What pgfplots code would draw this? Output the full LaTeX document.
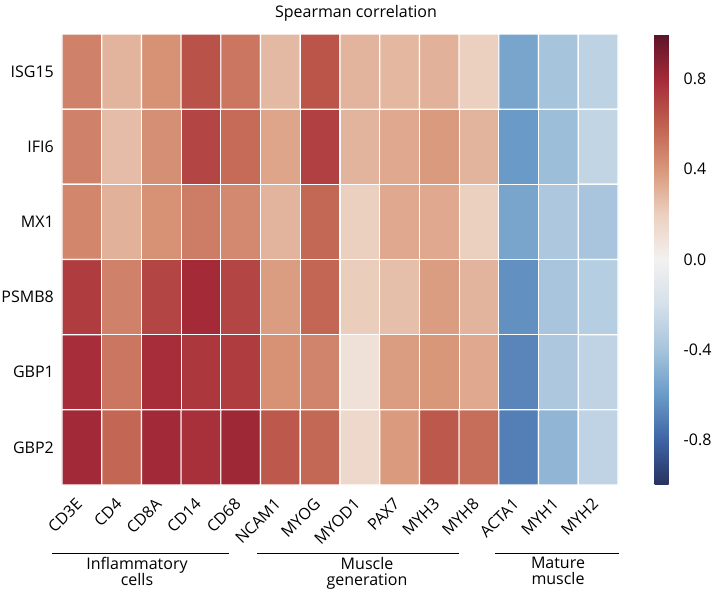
\documentclass[border=0pt]{standalone}
\usepackage{pgfplots}
\pgfplotsset{compat=1.18}
\usepackage{fontspec}
\setmainfont{Open Sans}

% colours sampled from the colour bar, -1 ... 1 in steps of 0.2
\pgfplotsset{
  colormap={spearman}{
    rgb255(0cm)=(39,50,94)
    rgb255(1cm)=(63,100,165)
    rgb255(2cm)=(106,155,200)
    rgb255(3cm)=(166,196,220)
    rgb255(4cm)=(213,224,234)
    rgb255(5cm)=(243,241,240)
    rgb255(6cm)=(236,208,191)
    rgb255(7cm)=(217,151,122)
    rgb255(8cm)=(192,96,79)
    rgb255(9cm)=(165,42,56)
    rgb255(10cm)=(92,20,40)
  }
}

\begin{document}
\begin{tikzpicture}[font=\fontsize{16bp}{16bp}\selectfont]
\useasboundingbox (-62bp,-106bp) rectangle (651bp,485bp);
\begin{axis}[
    at={(0,0)}, anchor=south west,
    scale only axis,
    width=556bp, height=451bp,
    xmin=-0.5, xmax=13.5, ymin=-0.5, ymax=5.5,
    y dir=reverse,
    enlargelimits=false,
    axis line style={draw=none},
    major tick length=0,
    xtick={0,...,13},
    xticklabels={CD3E,CD4,CD8A,CD14,CD68,NCAM1,MYOG,MYOD1,PAX7,MYH3,MYH8,ACTA1,MYH1,MYH2},
    xticklabel style={xshift=-7bp, yshift=-12bp, rotate=45, anchor=north east, inner sep=0pt},
    ytick={0,...,5},
    yticklabels={ISG15,IFI6,MX1,PSMB8,GBP1,GBP2},
    yticklabel style={anchor=east, inner sep=0pt, xshift=-8bp},
    colormap name=spearman,
    point meta min=-1, point meta max=1,
    colorbar,
    colorbar style={
        at={(parent axis.north east)}, anchor=north west, xshift=28bp,
        width=23bp, scale only axis,
        ytick={-0.8,-0.4,0,0.4,0.8},
        yticklabels={-0.8,-0.4,0.0,0.4,0.8},
        axis line style={draw=none},
        major tick length=0,
        yticklabel style={anchor=west, inner sep=0pt, xshift=6bp},
    },
]
\addplot[matrix plot*, mesh/cols=14, mesh/rows=6, point meta=explicit,
         draw=white, line width=1.2bp] table[meta=c] {
x y c
0 0 0.48
1 0 0.30
2 0 0.42
3 0 0.65
4 0 0.52
5 0 0.28
6 0 0.64
7 0 0.30
8 0 0.29
9 0 0.31
10 0 0.20
11 0 -0.55
12 0 -0.40
13 0 -0.30
0 1 0.48
1 1 0.27
2 1 0.43
3 1 0.70
4 1 0.56
5 1 0.35
6 1 0.72
7 1 0.30
8 1 0.34
9 1 0.39
10 1 0.30
11 1 -0.60
12 1 -0.43
13 1 -0.28
0 2 0.46
1 2 0.31
2 2 0.42
3 2 0.50
4 2 0.45
5 2 0.30
6 2 0.57
7 2 0.20
8 2 0.34
9 2 0.34
10 2 0.20
11 2 -0.55
12 2 -0.37
13 2 -0.39
0 3 0.73
1 3 0.48
2 3 0.70
3 3 0.80
4 3 0.70
5 3 0.38
6 3 0.58
7 3 0.21
8 3 0.26
9 3 0.38
10 3 0.30
11 3 -0.64
12 3 -0.39
13 3 -0.33
0 4 0.79
1 4 0.52
2 4 0.79
3 4 0.75
4 4 0.73
5 4 0.42
6 4 0.47
7 4 0.10
8 4 0.38
9 4 0.40
10 4 0.34
11 4 -0.68
12 4 -0.37
13 4 -0.29
0 5 0.81
1 5 0.58
2 5 0.81
3 5 0.78
4 5 0.82
5 5 0.63
6 5 0.57
7 5 0.15
8 5 0.39
9 5 0.63
10 5 0.55
11 5 -0.70
12 5 -0.47
13 5 -0.29
};
\end{axis}

% title
\node at (294bp,472bp) {Spearman correlation};

% group brackets under the column labels
\draw[line width=0.8bp] (-10bp,-68bp) -- (167bp,-68bp);
\draw[line width=0.8bp] (195bp,-68bp) -- (397bp,-68bp);
\draw[line width=0.8bp] (433bp,-68bp) -- (557bp,-68bp);
\node[anchor=north, align=center, inner sep=0pt] at (75bp,-72bp) {Inflammatory\\cells};
\node[anchor=north, align=center, inner sep=0pt] at (305bp,-72bp) {Muscle\\generation};
\node[anchor=north, align=center, inner sep=0pt] at (496bp,-72bp) {Mature\\muscle};
\end{tikzpicture}
\end{document}
